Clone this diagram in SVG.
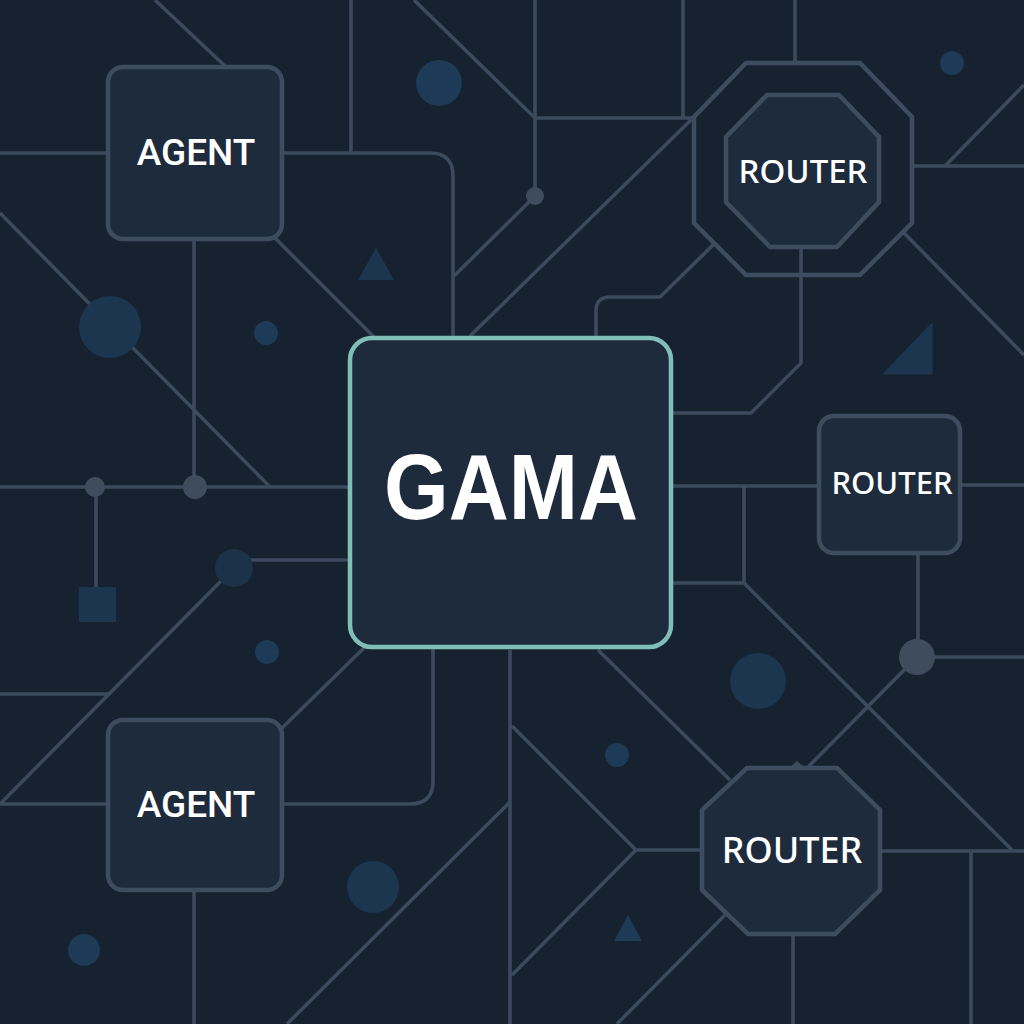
<svg xmlns="http://www.w3.org/2000/svg" width="1024" height="1024" viewBox="0 0 1024 1024">
<style>
.c{fill:none;stroke:#3b4a5c;stroke-width:3.6;stroke-linejoin:round}
.n{fill:#1e2b3c;stroke:#3d4c5f;stroke-width:4.5}
.d{fill:#1d3a56}
.l{fill:#1c3650}
.j{fill:#3e4c5e}
text{fill:#fff;text-anchor:middle;font-family:Roboto,"Liberation Sans",sans-serif;font-weight:500}
.r{font-family:"Noto Sans","Liberation Sans",sans-serif;font-weight:500}
.g{font-family:"Liberation Sans",Arial,sans-serif;font-weight:700}
</style>
<rect width="1024" height="1024" fill="#16222f"/>
<g id="decor">
<circle class="d" cx="439" cy="83" r="23"/><circle class="d" cx="952" cy="63" r="12"/><circle class="d" cx="266" cy="333" r="12"/><circle class="d" cx="267" cy="652" r="12"/><circle class="d" cx="617" cy="755" r="12"/><circle class="d" cx="84" cy="950" r="16"/>
<path class="l" d="M376 248L394 280H358Z"/><path class="l" d="M932 323V374H883Z" stroke="#1c3650" stroke-linejoin="round"/><path class="d" d="M628 915L642 941H614Z"/>
</g>
<g id="connectors" class="c">
<path d="M155 0L226 67M351 0V153M0 153H108M282 153H430Q453 153 453 176V338M414 0L535 118M535 0V196M535 118H693M683 0V118M535 196L453 277M693 118L470 336M795 0V63"/>
<path d="M912 166H1024M945 166L1024 85M904 233L1024 355M801 247V363L751 413H671M713 245L660 297H610Q596 297 596 311V338"/>
<path d="M671 486H819M960 485H1024M744 486V583M671 583H744M744 583L1012 850M918 553V657M917 657H1024M917 657L808 767"/>
<path d="M598 650L730 780M510 650V1024M512 726L636 850H702M636 850L512 975M725 915L617 1024M793 934V1024M880 851H1024M971 851V1024"/>
<path d="M0 487H350M194 239V487M0 213L270 487M275 238L375 338M96 487V590M250 560H350M222 580L0 804M0 694H108M0 804H108M282 804H410Q433 804 433 781V647M282 728L365 647M194 890V1024M510 802L287 1024"/>
</g>
<g id="decor2">
<circle class="l" cx="110" cy="327" r="31"/><circle class="l" cx="758" cy="681" r="28"/><circle class="l" cx="373" cy="887" r="26"/><circle cx="234" cy="568" r="19" fill="#1c3249"/>
<rect class="l" x="79" y="587" width="37" height="35"/>
</g>
<g id="junctions">
<circle class="j" cx="95" cy="487" r="10"/><circle class="j" cx="195" cy="487" r="12"/><circle class="j" cx="535" cy="196" r="9"/><circle class="j" cx="917" cy="657" r="18"/><path class="j" d="M797 761L804 767H790Z"/>
</g>
<g id="agent-1"><rect class="n" x="108" y="67" width="174" height="172" rx="15"/><text x="196" y="165" font-size="37">AGENT</text></g>
<g id="agent-2"><rect class="n" x="108" y="720" width="174" height="170" rx="15"/><text x="196" y="817" font-size="37">AGENT</text></g>
<g id="router-1"><path d="M746 63H860L912 117V223L860 275H746L694 223V117Z" fill="none" stroke="#3d4c5f" stroke-width="4.5"/><path class="n" d="M767 95H839L879 137V202L837 247H770L726 202V137Z"/><text class="r" x="803" y="183" font-size="33">ROUTER</text></g>
<g id="router-2"><rect class="n" x="819" y="416" width="141" height="137" rx="15"/><text class="r" x="892" y="494" font-size="31">ROUTER</text></g>
<g id="router-3"><path class="n" d="M747 768H837L880 810V890L835 934H748L702 890V810Z"/><text class="r" x="792" y="863" font-size="36">ROUTER</text></g>
<g id="gama"><rect x="350" y="338" width="321" height="309" rx="22" fill="#1e2b3c" stroke="#7fbfb8" stroke-width="4.5"/><text class="g" x="511" y="519" font-size="92" textLength="254" lengthAdjust="spacingAndGlyphs">GAMA</text></g>
</svg>
